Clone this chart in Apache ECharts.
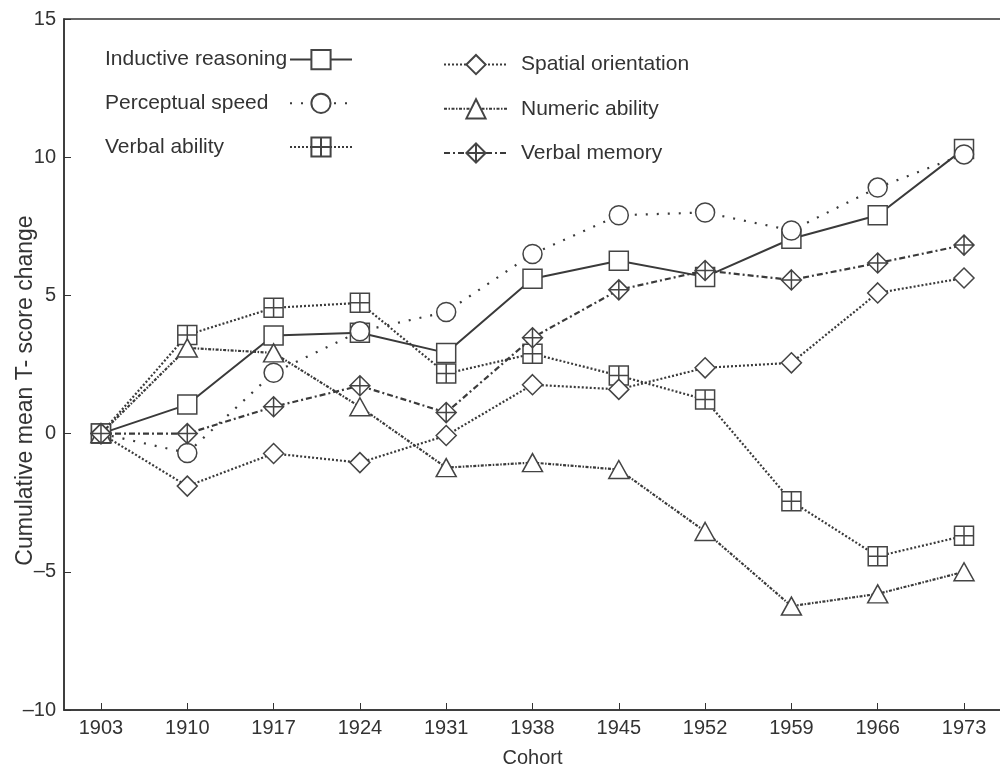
<!DOCTYPE html>
<html>
<head>
<meta charset="utf-8">
<script src="https://cdn.jsdelivr.net/npm/echarts@6/dist/echarts.min.js"></script>
<style>html,body{margin:0;padding:0;background:#fff;}#c{width:1000px;height:768px;}</style>
</head>
<body>
<div id="c"></div>
<script>
const cohorts = [1903, 1910, 1917, 1924, 1931, 1938, 1945, 1952, 1959, 1966, 1973];
const yTicks = [-10, -5, 0, 5, 10, 15];
const inductiveReasoning = [0, 1.05, 3.55, 3.65, 2.92, 5.6, 6.25, 5.67, 7.05, 7.9, 10.3];
const perceptualSpeed   = [0, -0.7, 2.2, 3.7, 4.4, 6.5, 7.9, 8.0, 7.35, 8.9, 10.1];
const verbalAbility     = [0, 3.57, 4.55, 4.73, 2.17, 2.89, 2.1, 1.23, -2.45, -4.44, -3.7];
const spatialOrientation= [0, -1.9, -0.72, -1.05, -0.07, 1.77, 1.6, 2.38, 2.56, 5.09, 5.63];
const numericAbility    = [0, 3.1, 2.92, 0.97, -1.23, -1.05, -1.3, -3.54, -6.24, -5.8, -5.0];
const verbalMemory      = [0, 0, 0.97, 1.73, 0.76, 3.47, 5.2, 5.9, 5.56, 6.17, 6.82];

const names = ['Inductive reasoning','Perceptual speed','Verbal ability','Spatial orientation','Numeric ability','Verbal memory'];
const values = [inductiveReasoning, perceptualSpeed, verbalAbility, spatialOrientation, numericAbility, verbalMemory];
const symbols = [
  'rect',
  'circle',
  'path://M0,0H10V10H0Z M5,0V10 M0,5H10',
  'diamond',
  'triangle',
  'path://M5,0L10,5L5,10L0,5Z M5,0V10 M0,5H10'
];
const dashes = ['solid', [2, 9], [2, 2], [2, 2], [3, 1.5, 1.5, 1.5], [6, 3, 2, 3]];
const sizes = [19, 19, 19, 20, [20, 18], 20];
const lineColor = '#3a3a3a';
const FONT = 'Liberation Sans, Arial, Helvetica, sans-serif';

const series = names.map((n, i) => ({
  name: n,
  type: 'line',
  data: cohorts.map((c, j) => [c, values[i][j]]),
  symbol: symbols[i],
  symbolSize: sizes[i],
  showAllSymbol: true,
  lineStyle: { color: lineColor, width: i === 0 ? 2 : 2.2, type: dashes[i] },
  itemStyle: { color: '#fff', borderColor: '#444', borderWidth: 1.5 },
  emphasis: { disabled: true },
  z: 2 + i
}));

const chart = echarts.init(document.getElementById('c'), null, { renderer: 'canvas' });
chart.setOption({
  animation: false,
  backgroundColor: '#fff',
  textStyle: { fontFamily: FONT, color: '#333' },
  grid: { left: 64, top: 19, width: 937, height: 691, outerBoundsMode: 'none', containLabel: false,
    show: true, borderColor: '#333', borderWidth: 1.5, backgroundColor: 'transparent' },
  legend: [
    {
      data: names.slice(0, 3),
      orient: 'vertical',
      align: 'right',
      left: 100,
      top: 44,
      itemWidth: 62,
      itemHeight: 24,
      itemGap: 22.5,
      formatter: n => '{a|' + n + '}',
      textStyle: { fontSize: 21, color: '#333', fontFamily: FONT,
        rich: { a: { width: 180, align: 'left', fontSize: 21, color: '#333', fontFamily: FONT } } },
      selectedMode: false
    },
    {
      data: names.slice(3),
      orient: 'vertical',
      align: 'left',
      left: 438,
      top: 49,
      itemWidth: 64,
      itemHeight: 24,
      itemGap: 23,
      textStyle: { fontSize: 21, color: '#333', fontFamily: FONT, padding: [0, 0, 0, 8] },
      selectedMode: false
    }
  ],
  xAxis: {
    type: 'value',
    min: 1900,
    max: 1976,
    name: 'Cohort',
    nameLocation: 'middle',
    nameGap: 38,
    nameMoveOverlap: false,
    nameTextStyle: { fontSize: 20, color: '#333' },
    axisLine: { show: true, onZero: false, lineStyle: { color: '#333', width: 1.5 } },
    axisTick: { show: true, inside: true, length: 7, lineStyle: { color: '#333' }, customValues: cohorts },
    axisLabel: { fontSize: 20, color: '#333', margin: 8, customValues: cohorts, formatter: v => String(v) },
    splitLine: { show: false }
  },
  yAxis: {
    type: 'value',
    min: -10,
    max: 15,
    interval: 5,
    name: 'Cumulative mean T- score change',
    nameLocation: 'middle',
    nameGap: 27,
    nameMoveOverlap: false,
    nameTextStyle: { fontSize: 23, color: '#333', padding: [0, 52, 0, 0] },
    axisLine: { show: true, onZero: false, lineStyle: { color: '#333', width: 1.5 } },
    axisTick: { show: true, inside: true, length: 7, lineStyle: { color: '#333' } },
    axisLabel: { fontSize: 20, color: '#333', margin: 8, customValues: yTicks, formatter: v => String(v).replace('-', '\u2013') },
    splitLine: { show: false }
  },
  series: series
});
</script>
</body>
</html>
